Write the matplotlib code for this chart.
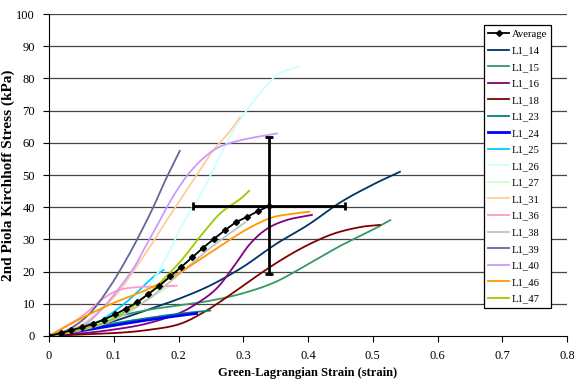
import matplotlib
matplotlib.use("Agg")
import matplotlib.pyplot as plt
import numpy as np

plt.rcParams['font.family'] = ['Liberation Serif', 'DejaVu Serif']

# Average curve with error bar at end
avg_x = [0, 0.018, 0.0345, 0.051, 0.068, 0.085, 0.102, 0.119, 0.136, 0.153, 0.170,
         0.187, 0.204, 0.221, 0.238, 0.255, 0.272, 0.289, 0.306, 0.323, 0.340]
avg_y = [0, 0.9, 1.8, 2.7, 3.7, 5.1, 6.7, 8.5, 10.5, 13.0, 15.5,
         18.5, 21.4, 24.4, 27.4, 30.2, 32.9, 35.4, 37.0, 38.8, 40.4]
err_x = 0.117
err_y = 21.3

series_names = ["L1_14", "L1_15", "L1_16", "L1_18", "L1_23", "L1_24", "L1_25", "L1_26",
                "L1_27", "L1_31", "L1_36", "L1_38", "L1_39", "L1_40", "L1_46", "L1_47"]

L1_14_x = [0, 0.05, 0.1, 0.15, 0.2, 0.25, 0.3, 0.35, 0.4, 0.45, 0.5, 0.542]
L1_14_y = [0, 2.2, 4.6, 8.0, 11.5, 15.8, 21.5, 28.5, 34.5, 41.5, 47.0, 51.0]
L1_15_x = [0, 0.05, 0.1, 0.15, 0.2, 0.25, 0.3, 0.35, 0.4, 0.45, 0.5, 0.527]
L1_15_y = [0, 3.0, 5.8, 8.0, 9.5, 11.0, 13.3, 16.8, 22.3, 28.0, 33.0, 36.0]
L1_16_x = [0, 0.05, 0.1, 0.15, 0.2, 0.233, 0.26, 0.285, 0.31, 0.336, 0.367, 0.406]
L1_16_y = [0, 0.8, 2.0, 3.8, 7.0, 10.7, 15.0, 21.5, 28.5, 33.2, 36.0, 37.6]
L1_18_x = [0, 0.1, 0.15, 0.2, 0.24, 0.28, 0.32, 0.36, 0.4, 0.44, 0.48, 0.511]
L1_18_y = [0, 0.9, 1.8, 3.6, 7.5, 12.8, 18.5, 23.8, 28.3, 31.8, 33.8, 34.5]
L1_23_x = [0, 0.05, 0.1, 0.15, 0.2, 0.249]
L1_23_y = [0, 2.0, 3.9, 5.5, 6.9, 7.9]
L1_24_x = [0, 0.05, 0.1, 0.15, 0.2, 0.228]
L1_24_y = [0, 1.6, 3.3, 4.9, 6.3, 7.0]
L1_25_x = [0, 0.05, 0.075, 0.1, 0.125, 0.15, 0.165, 0.177]
L1_25_y = [0, 2.2, 4.2, 7.5, 11.5, 16.3, 19.0, 20.5]
L1_26_x = [0, 0.05, 0.1, 0.13, 0.156, 0.18, 0.207, 0.238, 0.264, 0.29, 0.32, 0.352, 0.385]
L1_26_y = [0, 2.0, 6.0, 10.0, 16.0, 24.0, 35.0, 45.3, 56.0, 65.5, 74.0, 81.0, 83.7]
L1_27_x = [0, 0.05, 0.1, 0.15, 0.19]
L1_27_y = [0, 2.5, 6.0, 11.0, 16.0]
L1_31_x = [0, 0.05, 0.1, 0.135, 0.16, 0.182, 0.21, 0.235, 0.254, 0.275, 0.295]
L1_31_y = [0, 3.5, 12.0, 21.5, 29.0, 36.0, 44.5, 52.0, 57.8, 62.5, 67.9]
L1_36_x = [0, 0.03, 0.05, 0.071, 0.09, 0.112, 0.14, 0.17, 0.197]
L1_36_y = [0, 3.5, 6.0, 9.5, 12.5, 14.5, 15.2, 15.4, 15.6]
L1_38_x = [0, 0.05, 0.1, 0.15, 0.2, 0.25, 0.303]
L1_38_y = [0, 1.8, 5.0, 11.0, 19.0, 27.5, 35.3]
L1_39_x = [0, 0.03, 0.063, 0.094, 0.12, 0.14, 0.161, 0.18, 0.202]
L1_39_y = [0, 2.0, 7.0, 15.3, 24.0, 31.5, 40.0, 48.5, 57.5]
L1_40_x = [0, 0.05, 0.08, 0.11, 0.132, 0.146, 0.165, 0.182, 0.2, 0.218, 0.24, 0.264, 0.3, 0.352]
L1_40_y = [0, 3.0, 8.0, 15.3, 21.5, 26.7, 33.5, 40.0, 46.0, 51.0, 55.5, 58.8, 61.0, 62.9]
L1_46_x = [0, 0.05, 0.1, 0.15, 0.2, 0.25, 0.3, 0.34, 0.37, 0.402]
L1_46_y = [0, 5.5, 10.3, 14.3, 19.5, 26.0, 32.5, 36.5, 37.8, 38.6]
L1_47_x = [0, 0.05, 0.1, 0.15, 0.2, 0.233, 0.264, 0.295, 0.309]
L1_47_y = [0, 2.0, 5.5, 12.5, 22.5, 30.8, 38.0, 42.5, 45.1]

series_x = [L1_14_x, L1_15_x, L1_16_x, L1_18_x, L1_23_x, L1_24_x, L1_25_x, L1_26_x,
            L1_27_x, L1_31_x, L1_36_x, L1_38_x, L1_39_x, L1_40_x, L1_46_x, L1_47_x]
series_y = [L1_14_y, L1_15_y, L1_16_y, L1_18_y, L1_23_y, L1_24_y, L1_25_y, L1_26_y,
            L1_27_y, L1_31_y, L1_36_y, L1_38_y, L1_39_y, L1_40_y, L1_46_y, L1_47_y]
colors = ["#003366", "#339966", "#800080", "#800000", "#008080", "#0000FF", "#00CCFF", "#CCFFFF",
          "#CCFFCC", "#FFCC99", "#FF99CC", "#C0C0C0", "#666699", "#CC99FF", "#FF9900", "#99CC00"]

fig = plt.figure(figsize=(5.74, 3.87), dpi=100)
ax = fig.add_axes([0.0854, 0.1318, 0.9024, 0.832])

for v in range(10, 101, 10):
    ax.axhline(v, color="#444444", lw=0.9, zorder=0)


def pchip(x, y, xn):
    h = np.diff(x)
    d = np.diff(y) / h
    m = np.zeros_like(y)
    m[1:-1] = (d[:-1] + d[1:]) / 2
    m[0] = d[0]
    m[-1] = d[-1]
    idx = np.clip(np.searchsorted(x, xn) - 1, 0, len(h) - 1)
    s = (xn - x[idx]) / h[idx]
    h00 = 2 * s**3 - 3 * s**2 + 1
    h10 = s**3 - 2 * s**2 + s
    h01 = -2 * s**3 + 3 * s**2
    h11 = s**3 - s**2
    return h00 * y[idx] + h10 * h[idx] * m[idx] + h01 * y[idx + 1] + h11 * h[idx] * m[idx + 1]


def smooth(xs, ys):
    xs = np.asarray(xs, float)
    ys = np.asarray(ys, float)
    t = np.linspace(0, 1, len(xs))
    tt = np.linspace(0, 1, 200)
    return pchip(t, xs, tt), pchip(t, ys, tt)


handles = []
avg_line, = ax.plot(avg_x, avg_y, color="black", lw=1.3, marker="D", ms=3.0, zorder=5, label="Average")
handles.append(avg_line)
ax.errorbar([avg_x[-1]], [avg_y[-1]], xerr=err_x, yerr=err_y, fmt="none", ecolor="black",
            elinewidth=2.0, capsize=3, capthick=2.0, zorder=6)

for name, xs, ys, c in zip(series_names, series_x, series_y, colors):
    sx, sy = smooth(xs, ys)
    lw = 2.0 if name == "L1_24" else 1.3
    ln, = ax.plot(sx, sy, color=c, lw=lw, label=name, zorder=3)
    handles.append(ln)

ax.set_xlim(0, 0.8)
ax.set_ylim(0, 100)
ax.set_xticks(np.arange(0, 0.81, 0.1))
ax.set_xticklabels(["0", "0.1", "0.2", "0.3", "0.4", "0.5", "0.6", "0.7", "0.8"])
ax.set_yticks(range(0, 101, 10))
ax.tick_params(direction="out", length=4, width=0.8, labelsize=9, pad=6)
for sp in ["top", "right"]:
    ax.spines[sp].set_visible(False)

ax.set_xlabel("Green-Lagrangian Strain (strain)", fontsize=9, fontweight="bold", labelpad=4)
ax.set_ylabel("2nd Piola Kirchhoff Stress (kPa)", fontsize=11, fontweight="bold")
ax.yaxis.set_label_coords(-0.066, 0.5)

leg = ax.legend(handles=handles, loc="upper right", bbox_to_anchor=(0.969, 0.966),
                borderaxespad=0, fontsize=7.7, frameon=True, fancybox=False,
                edgecolor="black", framealpha=1, labelspacing=0.66, handlelength=2.0,
                handletextpad=0.2, borderpad=0.4)
leg.get_frame().set_linewidth(0.9)
leg.set_zorder(10)

fig.savefig("out.png", dpi=100)
